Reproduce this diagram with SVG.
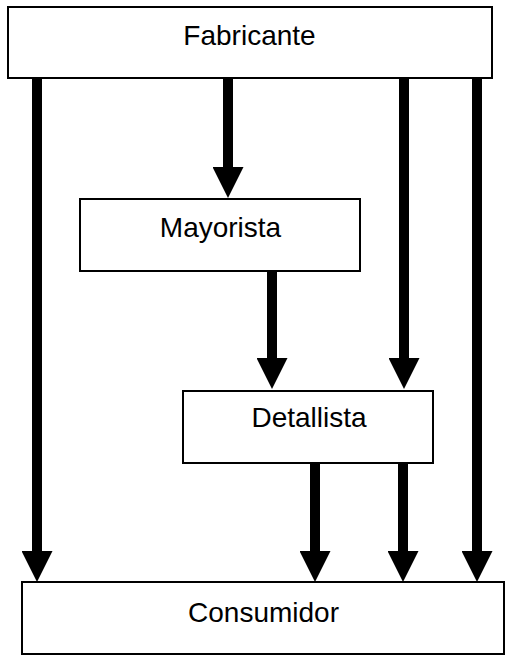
<svg xmlns="http://www.w3.org/2000/svg" width="506" height="655" viewBox="0 0 506 655">
<style>
.box{fill:#fff;stroke:#000;stroke-width:2}
.lbl{font-family:"Liberation Sans",Arial,sans-serif;font-size:28px;fill:#000;text-anchor:middle}
.conn{stroke:#000;stroke-width:10;fill:none;marker-end:url(#ah)}
</style>
<defs>
<marker id="ah" markerUnits="userSpaceOnUse" markerWidth="31" markerHeight="31" refX="3" refY="15.5" orient="auto" viewBox="0 0 31 31">
<path d="M0,0 L31,15.5 L0,31 Z" fill="#000"/>
</marker>
</defs>
<g id="connectors">
<line class="conn" x1="37" y1="79" x2="37" y2="554"/>
<line class="conn" x1="228" y1="79" x2="228" y2="170"/>
<line class="conn" x1="404" y1="79" x2="404" y2="361"/>
<line class="conn" x1="477" y1="79" x2="477" y2="554"/>
<line class="conn" x1="272" y1="272" x2="272" y2="361"/>
<line class="conn" x1="315" y1="464" x2="315" y2="554"/>
<line class="conn" x1="403" y1="464" x2="403" y2="554"/>
</g>
<g id="fabricante">
<rect class="box" x="8" y="7" width="484" height="71"/>
<text class="lbl" x="249.5" y="45">Fabricante</text>
</g>
<g id="mayorista">
<rect class="box" x="80" y="199" width="280" height="72"/>
<text class="lbl" x="220.5" y="237">Mayorista</text>
</g>
<g id="detallista">
<rect class="box" x="183" y="391" width="250" height="72"/>
<text class="lbl" x="309" y="427">Detallista</text>
</g>
<g id="consumidor">
<rect class="box" x="22" y="582" width="482" height="72"/>
<text class="lbl" x="263.5" y="622">Consumidor</text>
</g>
</svg>
